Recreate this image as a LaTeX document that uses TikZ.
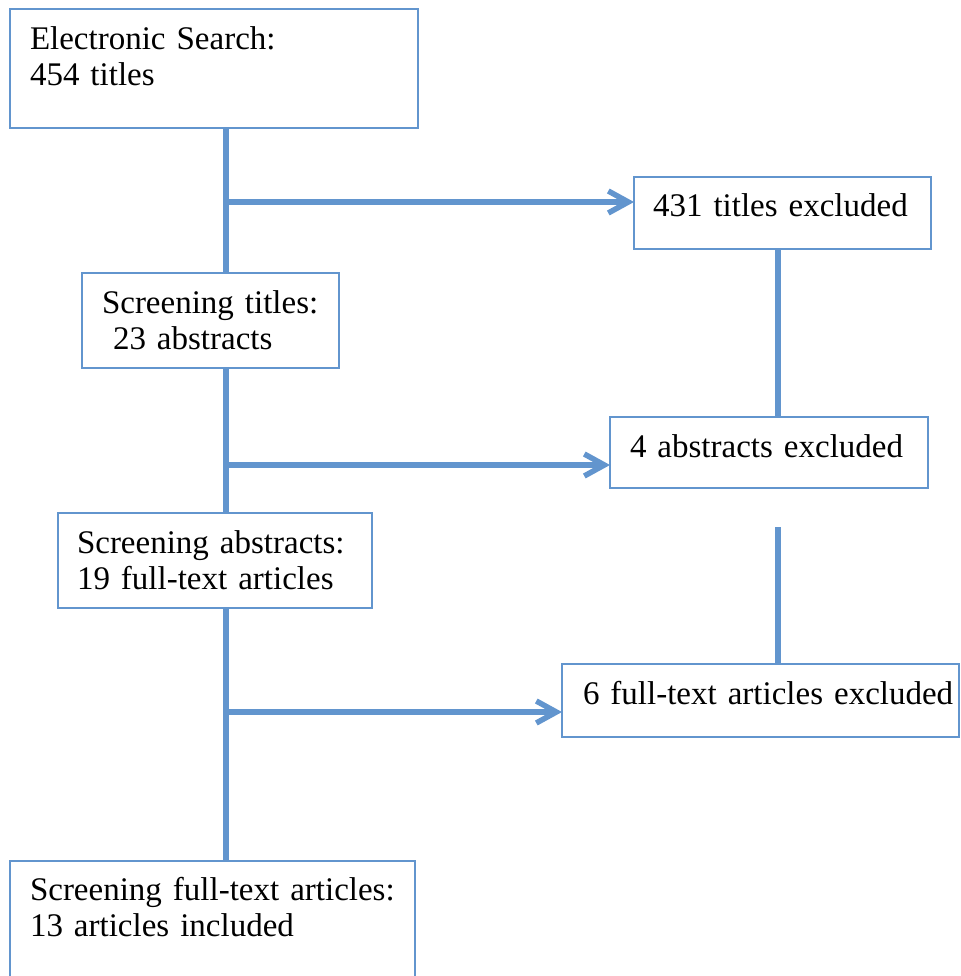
\documentclass[tikz,border=0pt]{standalone}
\usepackage{fontspec}
\setmainfont{Liberation Serif}
\usepackage{tikz}
\usetikzlibrary{arrows.meta}
\definecolor{flowblue}{RGB}{98,149,206}
\tikzstyle{stage} = [rectangle, anchor=north west, align=left, inner ysep=0pt, outer sep=0pt, text height=40pt, draw=flowblue, line width=2pt, fill=white, text=black, font=\fontsize{33}{36}\selectfont]
\tikzstyle{link} = [line width=5.5pt, draw=flowblue]
\tikzstyle{arrow} = [link, -{Straight Barb[length=20pt,width=22pt]}]

\begin{document}
\begin{tikzpicture}[x=1pt, y=-1pt]
			\useasboundingbox (0,0) rectangle (960,976);
			\clip (0,0) rectangle (960,976);
			\node[stage, inner xsep=20pt, text width=368pt, text height=41pt, text depth=78pt] (1) at (10,9) {Electronic Search:\\454 titles};
			\node[stage, inner xsep=19pt, text width=259pt, text depth=32pt] (2) at (634,177) {431 titles excluded};
			\node[stage, inner xsep=20pt, text width=217pt, text depth=55pt] (3) at (82,273) {Screening titles:\\~23 abstracts};
			\node[stage, inner xsep=20pt, text width=278pt, text depth=31pt] (4) at (610,417) {4 abstracts excluded};
			\node[stage, inner xsep=19pt, text width=276pt, text depth=55pt] (5) at (58,513) {Screening abstracts:\\19 full-text articles};
			\node[stage, inner xsep=21pt, text width=355pt, text depth=33pt] (6) at (562,664) {\mbox{6 full-text articles excluded}};
			\node[stage, inner xsep=20pt, text width=365pt, text height=39pt, text depth=140pt] (7) at (10,861) {Screening full-text articles:\\13 articles included};
			
			\coordinate (t1) at (226,202);
			\coordinate (t2) at (226,465);
			\coordinate (t3) at (226,712);
			\coordinate (r1) at (778,527);
			
			\draw [link] (1.south -| t1) -- (3.north -| t1);
			\draw [link] (3.south -| t2) -- (5.north -| t2);
			\draw [link] (5.south -| t3) -- (7.north -| t3);
			\draw [arrow] (t1) -- (t1 -| 2.west);
			\draw [arrow] (t2) -- (t2 -| 4.west);
			\draw [arrow] (t3) -- (t3 -| 6.west);
			\draw [link] (2.south -| r1) -- (4.north -| r1);
			\draw [link] (r1) -- (r1 |- 6.north);
			
		\end{tikzpicture}
\end{document}
